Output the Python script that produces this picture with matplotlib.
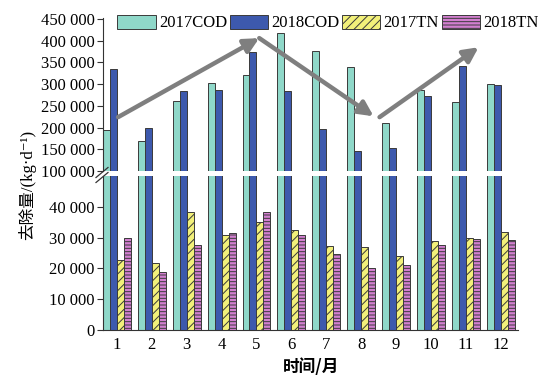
import numpy as np
import matplotlib
matplotlib.use("Agg")
import matplotlib.pyplot as plt
from matplotlib.lines import Line2D

plt.rcParams["font.family"] = ["Liberation Serif", "Noto Sans CJK SC", "DejaVu Serif"]
plt.rcParams["hatch.linewidth"] = 0.7

months = list(range(1, 13))
cod_2017 = [195000, 170000, 262000, 302000, 321000, 417000, 376000, 340000, 211000, 287000, 260000, 300000]
cod_2018 = [336000, 200000, 284000, 287000, 375000, 284000, 197000, 145000, 152000, 273000, 341000, 298000]
tn_2017 = [22600, 21700, 38300, 31000, 35000, 32600, 27400, 27000, 24000, 29000, 29900, 31700]
tn_2018 = [29900, 18800, 27700, 31400, 38300, 30800, 24800, 20300, 21000, 27500, 29700, 29300]
series_names = ["2017COD", "2018COD", "2017TN", "2018TN"]

# trend arrows over the COD bars: (start, end) in data coords
trend_arrows = [((1.03, 224000), (5.08, 406000)),
                ((5.08, 406000), (8.36, 226000)),
                ((8.53, 224000), (11.37, 385000))]

colors = ["#8FD8C9", "#3D59AD", "#F2F07A", "#D37FD0"]
hatches = [None, None, "////", "-----"]
edge = "#3a3a3a"

fig = plt.figure(figsize=(5.54, 3.86), dpi=100)
ax_top = fig.add_axes([0.186, 0.557, 0.749, 0.396])
ax_bot = fig.add_axes([0.186, 0.145, 0.749, 0.399])

x = np.array(months)
w = 0.2
all_series = [cod_2017, cod_2018, tn_2017, tn_2018]
handles = []
for ax in (ax_top, ax_bot):
    for i, vals in enumerate(all_series):
        bars = ax.bar(x + (i - 1.5) * w, vals, w, color=colors[i], edgecolor=edge,
                      linewidth=0.7, hatch=hatches[i], label=series_names[i])
        if ax is ax_top:
            handles.append(bars)

ax_top.set_ylim(100000, 452000)
ax_bot.set_ylim(0, 50000)
for ax in (ax_top, ax_bot):
    ax.set_xlim(0.6, 12.5)
    for s in ("top", "right"):
        ax.spines[s].set_visible(False)
    ax.spines["left"].set_color("#333333")
    ax.spines["bottom"].set_color("#333333")
    ax.tick_params(axis="y", direction="out", length=4, labelsize=12, pad=2, color="#333333")

ax_top.spines["bottom"].set_visible(False)
ax_top.set_xticks([])
ax_top.set_yticks(np.arange(100000, 450001, 50000))
ax_top.set_yticklabels([f"{v // 1000} 000" for v in range(100000, 450001, 50000)])

ax_bot.set_yticks(np.arange(0, 40001, 10000))
ax_bot.set_yticklabels(["0"] + [f"{v // 1000} 000" for v in range(10000, 40001, 10000)])
ax_bot.set_xticks(months)
ax_bot.set_xticklabels([str(m) for m in months])
ax_bot.tick_params(axis="x", length=0, labelsize=12, pad=5)

for (x0, y0), (x1, y1) in trend_arrows:
    ax_top.annotate("", xy=(x1, y1), xytext=(x0, y0), annotation_clip=False,
                    arrowprops=dict(arrowstyle="-|>", color="#7f7f7f", lw=3.2,
                                    mutation_scale=22, shrinkA=0, shrinkB=0))

# axis break marks
for yb in (171.5, 176.5):
    yf = 1 - yb / 386
    fig.add_artist(Line2D([96 / 554, 108 / 554], [yf - 6 / 386, yf + 4 / 386],
                          color="#333333", lw=0.9))

fig.legend(handles=handles, labels=series_names, loc="center", ncol=4,
           bbox_to_anchor=(328 / 554, 1 - 23 / 386), frameon=False, fontsize=12,
           handlelength=2.3, handleheight=0.95, handletextpad=0.2, columnspacing=0.15,
           borderpad=0.1)

fig.text(27 / 554, 1 - 185 / 386, "去除量/(kg·d⁻¹)", rotation=90, ha="center",
         va="center", fontsize=12)
fig.text(311 / 554, 1 - 367 / 386, "时间/月", ha="center", va="center", fontsize=12,
         family=["Noto Sans CJK SC"], fontweight="bold")

fig.savefig("out.png", dpi=100, facecolor="white")
